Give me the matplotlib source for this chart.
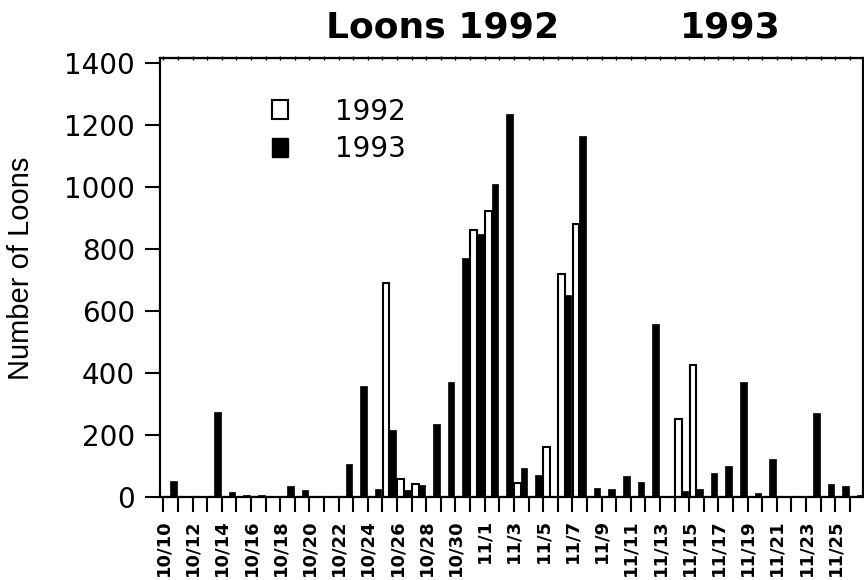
import matplotlib
matplotlib.use('Agg')
import matplotlib.pyplot as plt
from matplotlib.patches import Patch

plt.rcParams['font.family'] = ['DejaVu Sans']

# one entry per day, 10/10 .. 11/26
days = ['10/10', '10/11', '10/12', '10/13', '10/14', '10/15', '10/16', '10/17',
        '10/18', '10/19', '10/20', '10/21', '10/22', '10/23', '10/24', '10/25',
        '10/26', '10/27', '10/28', '10/29', '10/30', '10/31', '11/1', '11/2',
        '11/3', '11/4', '11/5', '11/6', '11/7', '11/8', '11/9', '11/10',
        '11/11', '11/12', '11/13', '11/14', '11/15', '11/16', '11/17', '11/18',
        '11/19', '11/20', '11/21', '11/22', '11/23', '11/24', '11/25', '11/26']

loons_1992 = [0, 0, 0, 0, 0, 0, 0, 0, 0, 0, 0, 0, 0, 0, 0, 690,
              58, 42, 0, 0, 0, 860, 922, 0, 45, 0, 160, 720, 880, 0, 0, 0,
              0, 0, 0, 250, 425, 0, 0, 0, 0, 0, 0, 0, 0, 0, 0, 0]

loons_1993 = [50, 0, 0, 275, 15, 5, 5, 0, 35, 22, 0, 0, 105, 358, 25, 215,
              22, 40, 235, 372, 770, 848, 1008, 1235, 93, 72, 0, 650, 1163, 30, 25, 67,
              47, 557, 3, 20, 25, 77, 100, 372, 12, 123, 0, 0, 272, 43, 35, 6]

fig = plt.figure(figsize=(8.64, 5.8), dpi=100)
ax = fig.add_axes([160/864, 1 - 497/580, 703/864, 439/580])

x = list(range(len(days)))
ax.bar([i + 0.25 for i in x], loons_1992, width=0.45, color='white',
       edgecolor='black', linewidth=1.5)
ax.bar([i + 0.7 for i in x], loons_1993, width=0.45, color='black',
       edgecolor='black', linewidth=0.5)

ax.set_xlim(-0.23, 47.9)
ax.set_ylim(0, 1415)

ax.set_yticks(range(0, 1401, 200))
ax.set_yticklabels([str(v) for v in range(0, 1401, 200)], fontsize=20)

ax.set_xticks(x)
ax.set_xticklabels([d if i % 2 == 0 else '' for i, d in enumerate(days)],
                   rotation=90, fontsize=13, fontweight='bold')

ax.tick_params(axis='y', direction='out', length=11, width=1.5, pad=7)
ax.tick_params(axis='x', direction='out', length=11, width=1.5, pad=5)
for s in ax.spines.values():
    s.set_linewidth(1.6)

# little hash marks along the top edge
top = ax.secondary_xaxis('top')
top.set_xticks(x)
top.set_xticklabels([])
top.tick_params(direction='inout', length=3, width=1)

handles = [Patch(facecolor='white', edgecolor='black', linewidth=1.5),
           Patch(facecolor='black', edgecolor='black')]
ax.legend(handles, ['1992', '1993'], loc='upper left',
          bbox_to_anchor=(0.16, 0.91), frameon=False, fontsize=20,
          handlelength=0.55, handleheight=0.65, handletextpad=1.7,
          labelspacing=0.35, borderaxespad=0, borderpad=0)

fig.text(21/864, 1 - 268/580, 'Number of Loons', rotation=90, fontsize=21,
         family='Liberation Sans', ha='center', va='center')
fig.text(326/864, 1 - 27/580, 'Loons 1992', fontsize=26, fontweight='bold',
         ha='left', va='center')
fig.text(680/864, 1 - 27/580, '1993', fontsize=26, fontweight='bold',
         ha='left', va='center')

fig.savefig('out.png', dpi=100)
